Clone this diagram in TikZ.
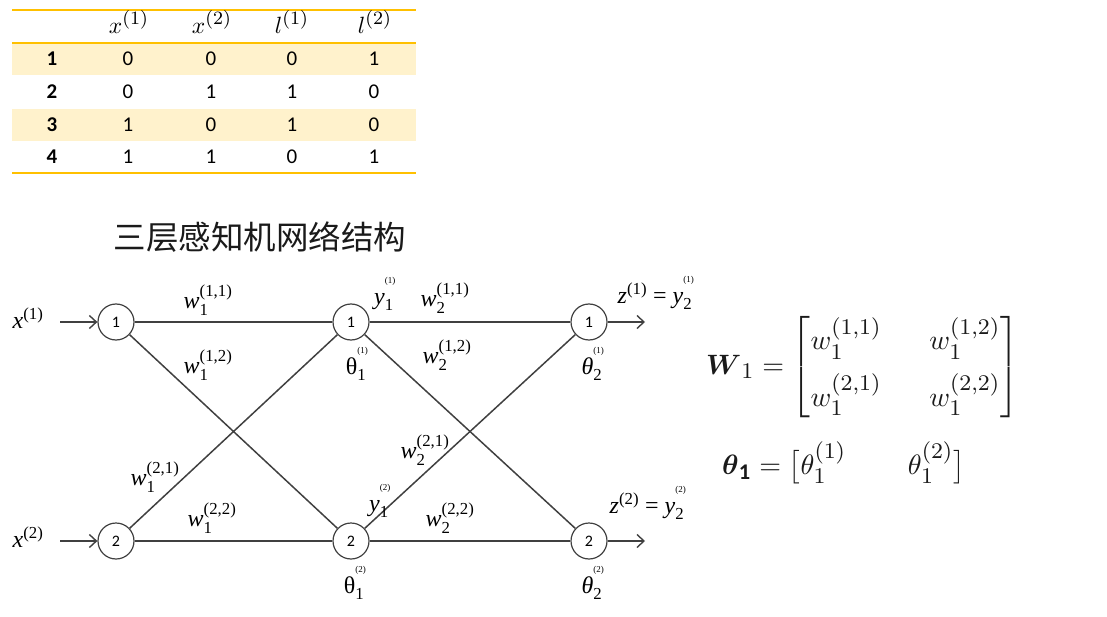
\documentclass[tikz,border=0pt]{standalone}
\usepackage{amsmath}
\usepackage{fontspec}
\setmainfont{Carlito}
\newfontfamily\tnr{Liberation Serif}
\newfontfamily\cjk{Noto Sans CJK SC}
\DeclareMathSizes{10}{10}{8}{6}
\usetikzlibrary{arrows.meta}
\definecolor{gold}{HTML}{FFC000}
\definecolor{band}{HTML}{FFF2CC}
\definecolor{ink}{HTML}{404040}
\definecolor{eqink}{HTML}{1A1A1A}
\newcommand\tl[3]{$\text{\tnr\itshape #1}_{\text{\tnr #2}}^{\text{\tnr #3}}$}
\newcommand\tinysup[1]{\raisebox{1.0ex}{\tnr\fontsize{9}{9}\selectfont #1}}
\newcommand\tlr[3]{$\text{\tnr #1}_{\text{\tnr #2}}^{\tinysup{#3}}$}
\newcommand\tli[3]{$\text{\tnr\itshape #1}_{\text{\tnr #2}}^{\tinysup{#3}}$}
\newcommand\bigmath[2]{\scalebox{#1}{\fontsize{10}{12}\selectfont$#2$}}
\tikzset{
  neuron/.style={circle,draw=ink,line width=1.2pt,minimum size=36pt,inner sep=0pt,font=\fontsize{16}{16}\selectfont},
  conn/.style={draw=ink,line width=1.5pt},
  arr/.style={conn,-{Straight Barb[length=7pt,width=13pt,line width=1.4pt]}},
  lab/.style={inner sep=0pt,font=\fontsize{24}{26}\selectfont},
  cell/.style={inner sep=0pt,font=\fontsize{21}{22}\selectfont},
  hcell/.style={inner sep=0pt,text=black},
  rule/.style={draw=gold,line width=2pt},
}
\begin{document}
\begin{tikzpicture}[x=1pt,y=-1pt]
\useasboundingbox (0,0) rectangle (1107,617);
% ---------- table ----------
\fill[band] (12,44) rectangle (416,75);
\fill[band] (12,109) rectangle (416,141);
\draw[rule] (12,10) -- (416,10);
\draw[rule] (12,43) -- (416,43);
\draw[rule] (12,173) -- (416,173);
\node[hcell] (hx1) at (129,22) {\bigmath{2.35}{x^{(1)}}};
\node[hcell] (hx2) at (212,22) {\bigmath{2.35}{x^{(2)}}};
\node[hcell] (hl1) at (292,22) {\bigmath{2.35}{l^{(1)}}};
\node[hcell] (hl2) at (375,22) {\bigmath{2.35}{l^{(2)}}};
\foreach \r/\yy/\a/\b/\c/\d in {1/59/0/0/0/1,2/92/0/1/1/0,3/125/1/0/1/0,4/157/1/1/0/1}{
  \node[cell,font=\fontsize{21}{22}\selectfont\bfseries] (r\r) at (52,\yy) {\r};
  \node[cell] (c\r a) at (128,\yy) {\a};
  \node[cell] (c\r b) at (211,\yy) {\b};
  \node[cell] (c\r c) at (292,\yy) {\c};
  \node[cell] (c\r d) at (374,\yy) {\d};
}
% ---------- title ----------
\node[inner sep=0pt,font=\cjk\fontsize{32.5}{33}\selectfont,text=eqink] (title) at (260,237) {三层感知机网络结构};
% ---------- network ----------
\node[neuron] (i1) at (116,322) {1};
\node[neuron] (i2) at (116,541) {2};
\node[neuron] (h1) at (351,322) {1};
\node[neuron] (h2) at (351,541) {2};
\node[neuron] (o1) at (589,322) {1};
\node[neuron] (o2) at (589,541) {2};
\coordinate (in1) at (60,322);
\coordinate (in2) at (60,541);
\coordinate (out1) at (645,322);
\coordinate (out2) at (645,541);
\draw[arr] (in1) -- (i1);
\draw[arr] (in2) -- (i2);
\draw[arr] (o1) -- (out1);
\draw[arr] (o2) -- (out2);
\draw[conn] (i1) -- (h1);
\draw[conn] (i1) -- (h2);
\draw[conn] (i2) -- (h1);
\draw[conn] (i2) -- (h2);
\draw[conn] (h1) -- (o1);
\draw[conn] (h1) -- (o2);
\draw[conn] (h2) -- (o1);
\draw[conn] (h2) -- (o2);
% labels
\node[lab] (lx1) at (28,318) {$\text{\tnr\itshape x}^{\text{\tnr(1)}}$};
\node[lab] (lx2) at (28,537) {$\text{\tnr\itshape x}^{\text{\tnr(2)}}$};
\node[lab] (w111) at (208,300) {\tl{w}{1}{(1,1)}};
\node[lab] (w112) at (208,365) {\tl{w}{1}{(1,2)}};
\node[lab] (w121) at (155,477) {\tl{w}{1}{(2,1)}};
\node[lab] (w122) at (212,518) {\tl{w}{1}{(2,2)}};
\node[lab] (w211) at (445,298) {\tl{w}{2}{(1,1)}};
\node[lab] (w212) at (447,355) {\tl{w}{2}{(1,2)}};
\node[lab] (w221) at (425,450) {\tl{w}{2}{(2,1)}};
\node[lab] (w222) at (450,518) {\tl{w}{2}{(2,2)}};
\node[lab] (y11) at (385,294) {\tli{y}{1}{(1)}};
\node[lab] (y12) at (380,501) {\tli{y}{1}{(2)}};
\node[lab] (t11) at (357,364) {\tlr{θ}{1}{(1)}};
\node[lab] (t12) at (355,583) {\tlr{θ}{1}{(2)}};
\node[lab] (t21) at (593,364) {\tli{θ}{2}{(1)}};
\node[lab] (t22) at (593,583) {\tli{θ}{2}{(2)}};
\node[lab] (z1) at (656,293) {$\text{\tnr\itshape z}^{\text{\tnr(1)}}\text{\tnr\ = }\text{\tnr\itshape y}_{\text{\tnr 2}}^{\tinysup{(1)}}$};
\node[lab] (z2) at (648,503) {$\text{\tnr\itshape z}^{\text{\tnr(2)}}\text{\tnr\ = }\text{\tnr\itshape y}_{\text{\tnr 2}}^{\tinysup{(2)}}$};
% ---------- equations ----------
\node[inner sep=0pt,anchor=west,text=eqink] (eqW) at (706,367)
  {\bigmath{2.8}{\setlength\arraycolsep{8.5pt}\boldsymbol{W}_1=\begin{bmatrix} w_1^{(1,1)} & w_1^{(1,2)}\\[5pt] w_1^{(2,1)} & w_1^{(2,2)}\end{bmatrix}}};
\node[inner sep=0pt,anchor=west,text=eqink] (eqT) at (722,463)
  {\bigmath{2.8}{\boldsymbol{\theta}_{\mathbf{1}}=\bigl[\theta_1^{(1)}\hspace{22pt}\theta_1^{(2)}\bigr]}};
\end{tikzpicture}
\end{document}
